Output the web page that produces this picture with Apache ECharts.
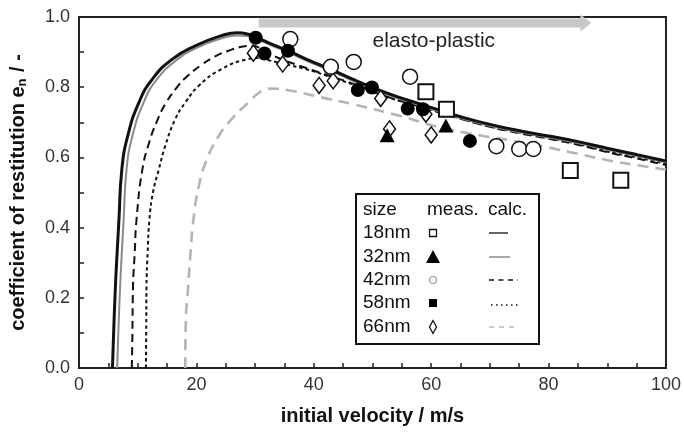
<!DOCTYPE html>
<html>
<head>
<meta charset="utf-8">
<script src="https://cdn.jsdelivr.net/npm/echarts@6/dist/echarts.min.js"></script>
<style>html,body{margin:0;padding:0;background:#fff}#c{width:684px;height:432px}</style>
</head>
<body>
<div id="c"></div>
<script>
// ---- data ----
const sizes = ['18nm', '32nm', '42nm', '58nm', '66nm'];
const xTickLabels = ['0', '20', '40', '60', '80', '100'];
const yTickLabels = ['0.0', '0.2', '0.4', '0.6', '0.8', '1.0'];

const calc18 = [[5.7,0],[5.9,0.1],[6.2,0.23],[6.5,0.33],[6.8,0.42],[7.3,0.566],[8.3,0.661],[10.2,0.756],[12.5,0.823],[15.9,0.88],[19.8,0.918],[24.3,0.947],[27,0.955],[29,0.95],[30.5,0.94],[32.5,0.925],[35.6,0.904],[39,0.878],[43,0.85],[47,0.82],[52.5,0.783],[57,0.758],[61,0.737],[65,0.716],[70,0.694],[75,0.676],[80,0.661],[85,0.645],[90,0.626],[95,0.608],[100,0.59]];
const calc32 = [[6.5,0],[6.7,0.1],[7.0,0.23],[7.3,0.33],[7.6,0.42],[8.1,0.566],[9.1,0.661],[11.0,0.756],[13.3,0.823],[16.8,0.88],[19.8,0.91],[23.5,0.935],[27,0.947],[29,0.945],[30.5,0.936],[32.5,0.921],[35.6,0.9],[39,0.874],[43,0.846],[47,0.816],[52.5,0.779],[57,0.754],[61,0.733],[65,0.712],[70,0.69],[75,0.672],[80,0.657],[85,0.641],[90,0.622],[95,0.604],[100,0.586]];
const calc42 = [[9.0,0],[9.1,0.1],[9.2,0.232],[9.5,0.33],[9.8,0.423],[10.8,0.566],[12.0,0.645],[13.2,0.7],[14.7,0.752],[16.7,0.8],[18.1,0.826],[20.9,0.864],[23.2,0.888],[25.5,0.904],[27.7,0.915],[29.5,0.918],[31.5,0.905],[33.9,0.884],[37.8,0.86],[41.8,0.837],[47,0.808],[52.5,0.773],[57,0.75],[61,0.73],[65,0.71],[70,0.687],[75,0.669],[80,0.653],[85,0.636],[90,0.615],[95,0.597],[100,0.578]];
const calc58 = [[11.4,0],[11.45,0.1],[11.5,0.232],[11.7,0.33],[12.0,0.423],[12.6,0.5],[13.6,0.566],[14.7,0.633],[16.4,0.709],[18.1,0.756],[20.4,0.804],[24.3,0.852],[28.8,0.88],[30.5,0.883],[32.5,0.876],[35,0.866],[39,0.85],[43,0.828],[47,0.806],[52.5,0.772],[57,0.75],[61,0.731],[65,0.711],[70,0.688],[75,0.671],[80,0.655],[85,0.638],[90,0.617],[95,0.6],[100,0.582]];
const calc66 = [[18.1,0],[18.2,0.138],[18.6,0.232],[19.0,0.328],[19.5,0.423],[20.4,0.518],[21.8,0.595],[23.8,0.661],[26.0,0.709],[28.8,0.756],[30.5,0.782],[31.6,0.792],[32.8,0.796],[36.1,0.79],[40.7,0.773],[46.8,0.751],[54.7,0.718],[60.9,0.688],[68.2,0.663],[74,0.647],[79.5,0.63],[85,0.61],[90.7,0.59],[95,0.578],[100,0.565]];

const meas18 = [[59.1,0.787],[62.6,0.737],[83.7,0.563],[92.3,0.535]];
const meas32 = [[52.5,0.663],[62.5,0.691]];
const meas42 = [[36.0,0.937],[42.9,0.858],[46.8,0.872],[56.4,0.83],[71.1,0.632],[75.0,0.624],[77.4,0.624]];
const meas58 = [[30.1,0.941],[31.6,0.896],[35.6,0.904],[47.5,0.792],[49.9,0.799],[56.0,0.739],[58.6,0.737],[66.6,0.647]];
const meas66 = [[29.7,0.897],[34.7,0.866],[40.9,0.805],[43.3,0.818],[51.4,0.768],[52.9,0.681],[59.1,0.723],[60.0,0.664]];

const arrowRange = [30.6, 87.3];
const arrowLevel = 0.983;
const annotText = 'elasto-plastic';
const annotPos = [50, 0.931];

// ---- chart ----
const FONT = 'Liberation Sans, Arial, sans-serif';
const chart = echarts.init(document.getElementById('c'), null, {renderer: 'canvas'});

function lineSeries(name, data, color, width, type) {
  return {name, type: 'line', data, showSymbol: false, smooth: 0.5,
    lineStyle: {color, width, type}, z: 2, silent: true};
}
function scatterSeries(name, data, symbol, size, fill, border, bw, z) {
  return {name, type: 'scatter', data, symbol, symbolSize: size,
    itemStyle: {color: fill, borderColor: border, borderWidth: bw, opacity: 1}, z, silent: true};
}

const option = {
  animation: false,
  backgroundColor: '#fff',
  grid: {left: 76, right: 16, top: 17, bottom: 64, show: true, borderColor: '#222', borderWidth: 2, backgroundColor: 'transparent'},
  xAxis: {
    type: 'value', min: 0, max: 100, interval: 20,
    name: 'initial velocity / m/s', nameLocation: 'middle', nameGap: 38,
    nameTextStyle: {fontFamily: FONT, fontWeight: 'bold', fontSize: 20, color: '#111'},
    axisLine: {show: true, onZero: false, lineStyle: {color: '#222', width: 2}},
    axisTick: {show: true, inside: true, length: 5, lineStyle: {color: '#222', width: 1.5}},
    minorTick: {show: true, splitNumber: 4, length: 5, lineStyle: {color: '#222', width: 1.5}},
    splitLine: {show: false},
    axisLabel: {fontFamily: FONT, fontSize: 18, color: '#333', margin: 8,
      formatter: v => xTickLabels[Math.round(v / 20)]}
  },
  yAxis: {
    type: 'value', min: 0, max: 1, interval: 0.2,
    name: '{a|coefficient of restitution e}{s|n}{a| / -}', nameLocation: 'middle', nameGap: 50,
    nameTextStyle: {fontFamily: FONT, fontWeight: 'bold', fontSize: 20, color: '#111',
      rich: {a: {fontFamily: FONT, fontWeight: 'bold', fontSize: 20, color: '#111', lineHeight: 22},
             s: {fontFamily: FONT, fontWeight: 'bold', fontSize: 13, color: '#111', lineHeight: 22, verticalAlign: 'bottom', padding: [8, 1, 0, 0]}}},
    axisLine: {show: true, onZero: false, lineStyle: {color: '#222', width: 2}},
    axisTick: {show: true, inside: true, length: 5, lineStyle: {color: '#222', width: 1.5}},
    minorTick: {show: true, splitNumber: 2, length: 5, lineStyle: {color: '#222', width: 1.5}},
    splitLine: {show: false},
    axisLabel: {fontFamily: FONT, fontSize: 18, color: '#333', margin: 9,
      formatter: v => yTickLabels[Math.round(v / 0.2)]}
  },
  series: [
    lineSeries(sizes[4] + ' calc', calc66, '#b4b4b4', 2.6, [11, 7]),
    lineSeries(sizes[3] + ' calc', calc58, '#111', 2, [3.5, 3]),
    lineSeries(sizes[2] + ' calc', calc42, '#111', 2, [8, 5]),
    lineSeries(sizes[1] + ' calc', calc32, '#8a8a8a', 2, 'solid'),
    lineSeries(sizes[0] + ' calc', calc18, '#111', 3, 'solid'),
    scatterSeries(sizes[4] + ' meas', meas66, 'diamond', [12, 16], '#fff', '#111', 1.5, 5),
    scatterSeries(sizes[2] + ' meas', meas42, 'circle', 15, '#fff', '#111', 1.5, 6),
    scatterSeries(sizes[0] + ' meas', meas18, 'rect', 15, '#fff', '#111', 2, 7),
    scatterSeries(sizes[1] + ' meas', meas32, 'triangle', [15, 14], '#000', '#000', 0, 8),
    scatterSeries(sizes[3] + ' meas', meas58, 'circle', 14, '#000', '#000', 0, 9)
  ]
};
chart.setOption(option);

// ---- annotations & legend (graphic) ----
const p0 = chart.convertToPixel({gridIndex: 0}, [arrowRange[0], arrowLevel]);
const p1 = chart.convertToPixel({gridIndex: 0}, [arrowRange[1], arrowLevel]);
const tp = chart.convertToPixel({gridIndex: 0}, annotPos);
const sh = 4.5, hh = 8.5, hl = 11;
const arrowPts = [[p0[0], p0[1] - sh], [p1[0] - hl, p1[1] - sh], [p1[0] - hl, p1[1] - hh], [p1[0], p1[1]],
  [p1[0] - hl, p1[1] + hh], [p1[0] - hl, p1[1] + sh], [p0[0], p0[1] + sh]];

const LX = 356, LY = 194, LW = 183, LH = 150;
const rowY = [210, 233, 257, 280, 303, 327];
const symX = 433, lnX0 = 489, lnX1 = 518;
const g = [
  {type: 'polygon', shape: {points: arrowPts}, style: {fill: '#c8c8c8'}, z: 1},
  {type: 'text', x: tp[0], y: tp[1], style: {text: annotText, fontFamily: FONT, fontSize: 21, fill: '#222', textVerticalAlign: 'middle'}, z: 20},
  {type: 'rect', shape: {x: LX, y: LY, width: LW, height: LH}, style: {fill: '#fff', stroke: '#111', lineWidth: 2}, z: 30},
  {type: 'text', x: 363, y: rowY[0], style: {text: 'size', fontFamily: FONT, fontSize: 19, fill: '#111', textVerticalAlign: 'middle'}, z: 31},
  {type: 'text', x: 427, y: rowY[0], style: {text: 'meas.', fontFamily: FONT, fontSize: 19, fill: '#111', textVerticalAlign: 'middle'}, z: 31},
  {type: 'text', x: 488, y: rowY[0], style: {text: 'calc.', fontFamily: FONT, fontSize: 19, fill: '#111', textVerticalAlign: 'middle'}, z: 31}
];
sizes.forEach((s, i) => {
  g.push({type: 'text', x: 363, y: rowY[i + 1], style: {text: s, fontFamily: FONT, fontSize: 19, fill: '#111', textVerticalAlign: 'middle'}, z: 31});
});
const y1 = rowY[1], y2 = rowY[2], y3 = rowY[3], y4 = rowY[4], y5 = rowY[5];
g.push(
  {type: 'rect', shape: {x: symX - 3.5, y: y1 - 3.5, width: 7, height: 7}, style: {fill: '#fff', stroke: '#111', lineWidth: 1.3}, z: 31},
  {type: 'polygon', shape: {points: [[symX, y2 - 7], [symX + 7, y2 + 6], [symX - 7, y2 + 6]]}, style: {fill: '#000'}, z: 31},
  {type: 'circle', shape: {cx: symX, cy: y3, r: 3.5}, style: {fill: '#fff', stroke: '#999', lineWidth: 1.2}, z: 31},
  {type: 'rect', shape: {x: symX - 4, y: y4 - 4, width: 8, height: 8}, style: {fill: '#000'}, z: 31},
  {type: 'polygon', shape: {points: [[symX, y5 - 6.5], [symX + 3.5, y5], [symX, y5 + 6.5], [symX - 3.5, y5]]}, style: {fill: '#fff', stroke: '#111', lineWidth: 1.3}, z: 31},
  {type: 'line', shape: {x1: lnX0, y1: y1, x2: lnX0 + 19, y2: y1}, style: {stroke: '#666', lineWidth: 2}, z: 31},
  {type: 'line', shape: {x1: lnX0, y1: y2, x2: lnX0 + 21, y2: y2}, style: {stroke: '#aaa', lineWidth: 2}, z: 31},
  {type: 'line', shape: {x1: lnX0, y1: y3, x2: lnX1, y2: y3}, style: {stroke: '#111', lineWidth: 1.5, lineDash: [5, 4.5]}, z: 31},
  {type: 'line', shape: {x1: lnX0 + 2, y1: y4 + 2, x2: lnX1, y2: y4 + 2}, style: {stroke: '#111', lineWidth: 1.5, lineDash: [1.5, 3.5]}, z: 31},
  {type: 'line', shape: {x1: lnX0, y1: y5, x2: lnX1, y2: y5}, style: {stroke: '#bbb', lineWidth: 1.5, lineDash: [5, 5]}, z: 31}
);
chart.setOption({graphic: g});
</script>
</body>
</html>
